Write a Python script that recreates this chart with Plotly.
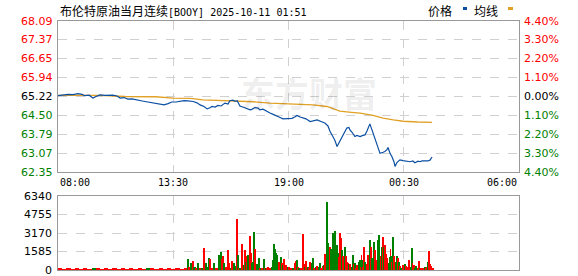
import plotly.graph_objects as go
import pandas as pd

# ---------------- data ----------------
TITLE_NAME = "布伦特原油当月连续"
TITLE_CODE = "[BOOY] 2025-10-11 01:51"
SESSION_START = "2025-10-10 08:00"
SESSION_END = "2025-10-11 06:00"
PREV_CLOSE = 65.22

# price line: minutes since 08:00 and price
price_minutes = [0, 14, 29, 43, 57, 69, 77, 89, 100, 109, 120, 135, 149, 157, 169, 178, 189, 200, 212, 220,
                 229, 241, 249, 258, 269, 281, 292, 304, 315, 326, 338, 349, 361, 372, 387, 398, 407, 418, 427, 435,
                 441, 450, 458, 467, 478, 487, 492, 501, 507, 513, 521, 533, 541, 550, 555, 564, 573, 578, 587, 596,
                 607, 616, 627, 636, 644, 656, 670, 679, 684, 693, 702, 710, 722, 730, 742, 753, 764, 773, 779, 787,
                 793, 799, 805, 813, 819, 827, 833, 836, 842, 850, 856, 865, 873, 879, 885, 893, 899, 905, 908, 916,
                 922, 931, 936, 942, 945, 951, 956, 962, 965, 971, 974, 979, 988, 996, 1008, 1016, 1022, 1031, 1037,
                 1042, 1051, 1059, 1065, 1071]
price_values = [65.25, 65.27, 65.30, 65.29, 65.33, 65.30, 65.25, 65.27, 65.16, 65.22, 65.28, 65.26, 65.28, 65.27,
                65.24, 65.16, 65.18, 65.12, 65.13, 65.10, 65.07, 65.05, 65.03, 65.01, 64.98, 64.94, 64.92, 64.90,
                64.95, 65.01, 65.01, 65.04, 65.06, 65.05, 65.03, 64.98, 64.90, 64.84, 64.75, 64.79, 64.84, 64.82,
                64.88, 64.86, 64.97, 64.93, 65.06, 65.08, 65.04, 65.06, 64.86, 64.80, 64.75, 64.71, 64.73, 64.80,
                64.78, 64.71, 64.74, 64.66, 64.59, 64.54, 64.46, 64.42, 64.37, 64.38, 64.39, 64.45, 64.50, 64.44,
                64.40, 64.37, 64.27, 64.30, 64.33, 64.27, 64.21, 64.10, 63.89, 63.70, 63.55, 63.32, 63.48, 63.64,
                63.80, 64.02, 64.04, 63.95, 63.86, 63.70, 63.74, 63.70, 63.74, 63.76, 63.92, 64.18, 63.95, 63.70,
                63.57, 63.32, 63.06, 63.10, 63.13, 63.20, 63.28, 63.05, 62.94, 62.74, 62.56, 62.72, 62.77, 62.81,
                62.78, 62.77, 62.74, 62.77, 62.70, 62.76, 62.74, 62.77, 62.76, 62.77, 62.80, 62.92]

# average line
avg_minutes = [0, 120, 192, 280, 329, 380, 415, 501, 560, 607, 650, 693, 730, 770, 807, 840, 865, 902, 931, 960,
               988, 1030, 1071]
avg_values = [65.26, 65.26, 65.22, 65.21, 65.16, 65.15, 65.09, 65.06, 65.02, 64.97, 64.95, 64.93, 64.90, 64.84,
              64.66, 64.62, 64.59, 64.50, 64.40, 64.33, 64.28, 64.25, 64.24]

# volume bars: minutes since 08:00, volume, 1 = up (red) / 0 = down (green)
vol_minutes = [0, 12, 24, 36, 48, 60, 72, 84, 97, 108, 120, 132, 144, 156, 168, 180, 192, 204, 216, 228, 240, 252,
               264, 276, 288, 300, 312, 324, 336, 348, 360,
               372, 375, 378, 384, 389, 394, 398, 404, 409, 415, 421, 424, 429, 435, 438, 444, 450, 455, 458, 464,
               467, 470, 475, 478, 484, 490, 492, 498, 501, 507, 510, 513, 515, 518, 521, 524, 527, 530, 533, 535,
               538, 541, 544, 547, 550, 553, 555, 558, 561, 564, 567, 570, 573, 575, 578, 581, 584, 587, 590, 593,
               598, 601, 604, 607, 610, 613, 618, 621, 624, 627, 630, 633, 636, 641, 644, 647, 650, 653, 656, 659,
               663, 667, 672, 676, 681, 684, 687, 690, 695, 699, 704, 707, 710, 713, 716, 719, 722, 725, 727, 730,
               733, 736, 739, 742, 744, 747, 750, 753, 756, 759, 762, 764, 767, 770, 773, 776, 779, 782, 785, 790,
               793, 796, 799, 802, 805, 808, 810, 813, 816, 819, 822, 825, 827, 830, 833, 836, 839, 842, 845, 848,
               850, 853, 856, 859, 862, 865, 868, 870, 873, 876, 879, 882, 885, 888, 891, 893, 896, 899, 902, 905,
               908, 911, 913, 916, 919, 922, 925, 928, 931, 934, 936, 939, 942, 945, 948, 951, 953, 956, 959, 962,
               965, 968, 971, 974, 977, 979, 982, 985, 988, 991, 994, 997, 999, 1002, 1005, 1008, 1011, 1014, 1016,
               1019, 1022, 1025, 1028, 1031, 1034, 1037, 1040, 1042, 1045, 1048, 1051, 1054, 1057, 1060, 1062, 1065,
               1068, 1071]
vol_values = [90, 80, 90, 85, 90, 80, 90, 85, 170, 90, 85, 90, 80, 90, 85, 90, 85, 90, 80, 90, 85, 110,
              90, 85, 90, 80, 90, 85, 90, 80, 90,
              950, 300, 600, 770, 250, 150, 600, 100, 170, 1870, 600, 250, 1030, 950, 200, 600, 150, 100, 1290, 1550,
              950, 1200, 600, 260, 1720, 600, 200, 780, 600, 340, 4390, 780, 1290, 200, 200, 2240, 300, 400, 260, 1720,
              700, 1200, 1290, 2920, 690, 1460, 600, 700, 3270, 1800, 520, 300, 780, 1030, 200, 170, 150, 950, 200, 100,
              100, 260, 100, 150, 300, 860, 2240, 1800, 1460, 1290, 690, 500, 1120, 600, 400, 950, 400, 200, 300, 260,
              100, 150, 100, 600, 780, 860, 300, 150, 100, 3100, 520, 300, 780, 300, 150, 700, 150, 300, 600, 1030,
              200, 250, 340, 100, 150, 300, 600, 200, 340, 400, 1030, 1380, 690, 5850, 2320, 1980, 1800, 860, 3180, 2750,
              3360, 2150, 1460, 1120, 3180, 1500, 2750, 1720, 1200, 1980, 1200, 500, 690, 600, 500, 520, 300, 1290, 520, 300,
              600, 200, 430, 690, 860, 300, 1290, 860, 300, 1980, 700, 500, 1290, 690, 400, 2580, 1980, 1000, 2410, 1720,
              860, 500, 860, 2580, 3010, 1200, 1980, 2840, 1980, 800, 2150, 1380, 1030, 600, 1120, 1800, 1200, 700, 2840, 1200,
              700, 1200, 1030, 690, 300, 340, 200, 430, 200, 520, 340, 150, 260, 200, 860, 300, 1890, 600, 300,
              430, 150, 340, 150, 780, 200, 150, 100, 150, 100, 260, 150, 260, 690, 300, 1630, 500,
              340, 170]
vol_up = [1, 1, 1, 1, 1, 1, 1, 1, 0, 1, 1, 1, 1, 1, 1, 1, 1, 1, 1, 1, 1, 0,
          1, 1, 1, 1, 1, 1, 1, 1, 1,
          0, 1, 0, 1, 0, 1, 0, 1, 0, 1, 0, 0, 0, 1, 1, 0, 1, 1, 0, 0,
          1, 1, 0, 1, 1, 1, 0, 1, 0, 0, 1, 1, 0, 1, 0, 1, 1, 0, 1, 1,
          0, 1, 0, 1, 1, 1, 0, 0, 0, 1, 0, 0, 1, 0, 1, 0, 1, 0, 1, 0,
          1, 1, 1, 1, 0, 0, 0, 0, 0, 0, 1, 1, 0, 1, 0, 1, 1, 1, 0, 1,
          1, 1, 0, 1, 1, 0, 1, 0, 1, 1, 1, 0, 1, 0, 1, 1, 1, 0, 0, 0,
          1, 0, 1, 0, 1, 0, 0, 1, 1, 0, 0, 1, 1, 0, 0, 1, 0, 0, 0, 0,
          0, 0, 0, 1, 1, 1, 1, 0, 1, 0, 1, 0, 1, 1, 0, 1, 0, 0, 1, 0,
          0, 1, 1, 0, 0, 1, 1, 0, 1, 1, 0, 1, 1, 1, 0, 0, 1, 0, 0, 1,
          1, 0, 1, 0, 0, 1, 0, 1, 0, 1, 1, 1, 1, 0, 0, 1, 0, 1, 0, 1,
          0, 0, 1, 0, 1, 1, 0, 1, 1, 0, 1, 0, 1, 1, 1, 0, 0, 1, 1,
          1, 0, 0, 1, 1, 0, 1, 0, 1, 1, 0, 1, 1, 0, 1, 1, 1,
          1, 1]

price_ticks = [62.35, 63.07, 63.79, 64.50, 65.22, 65.94, 66.65, 67.37, 68.09]
price_tick_labels = ["62.35", "63.07", "63.79", "64.50", "65.22", "65.94", "66.65", "67.37", "68.09"]
pct_tick_labels = ["4.40%", "3.30%", "2.20%", "1.10%", "0.00%", "1.10%", "2.20%", "3.30%", "4.40%"]
vol_ticks = [0, 1585, 3170, 4755, 6340]
time_tick_dates = ["2025-10-10 08:00", "2025-10-10 13:30", "2025-10-10 19:00", "2025-10-11 00:30", "2025-10-11 06:00"]
time_tick_labels = ["08:00", "13:30", "19:00", "00:30", "06:00"]
legend_names = ["价格", "均线"]

# ---------------- styles ----------------
BLUE = "#0B4FA3"
GOLD = "#E0A126"
RED = "#FF0000"
GREEN = "#008000"
GRID = "#D0D0D0"
FRAME = "#999999"
NUMFONT = "DejaVu Sans"

start = pd.Timestamp(SESSION_START)
end = pd.Timestamp(SESSION_END)


def to_time(mins):
    return [start + pd.Timedelta(minutes=m) for m in mins]


price_x = to_time(price_minutes)
avg_x = to_time(avg_minutes)
vol_x = to_time(vol_minutes)
gaps = [(b - a) * 60000 for a, b in zip(vol_minutes[:-1], vol_minutes[1:])] + [3 * 60000]
vol_colors = [RED if u else GREEN for u in vol_up]

fig = go.Figure()
fig.add_trace(go.Scatter(x=avg_x, y=avg_values, mode="lines", line=dict(color=GOLD, width=1.3),
                         hoverinfo="skip", xaxis="x", yaxis="y"))
fig.add_trace(go.Scatter(x=price_x, y=price_values, mode="lines", line=dict(color=BLUE, width=1.2),
                         hoverinfo="skip", xaxis="x", yaxis="y"))
fig.add_trace(go.Bar(x=vol_x, y=vol_values, width=gaps, offset=0,
                     marker=dict(color=vol_colors, line=dict(width=0)),
                     hoverinfo="skip", xaxis="x2", yaxis="y2"))

XD = [58 / 578, 519 / 578]
MAIN_D = [1 - 172 / 276, 1 - 21 / 276]
VOL_D = [1 - 270 / 276, 1 - 196 / 276]

inner_times = [pd.Timestamp(t) for t in time_tick_dates[1:-1]]
xcommon = dict(range=[start, end], showline=True, mirror=True, linecolor=FRAME, linewidth=1,
               tickvals=inner_times, showticklabels=False, ticks="",
               showgrid=True, gridcolor=GRID, griddash="dash", gridwidth=1, zeroline=False,
               domain=XD, fixedrange=True)

fig.update_layout(
    width=578, height=276, autosize=False,
    margin=dict(l=0, r=0, t=0, b=0),
    paper_bgcolor="white", plot_bgcolor="white",
    showlegend=False, bargap=0,
    xaxis=dict(**xcommon, anchor="y"),
    xaxis2=dict(**xcommon, anchor="y2", matches="x"),
    yaxis=dict(domain=MAIN_D, range=[price_ticks[0], price_ticks[-1]], tickvals=price_ticks,
               showticklabels=False, ticks="", showline=True, mirror=True, linecolor=FRAME,
               showgrid=True, gridcolor=GRID, griddash="dash", zeroline=False, anchor="x"),
    yaxis2=dict(domain=VOL_D, range=[vol_ticks[0], vol_ticks[-1]], tickvals=vol_ticks,
                showticklabels=False, ticks="",
                showline=True, mirror=True, linecolor=FRAME,
                showgrid=True, gridcolor=GRID, griddash="dash", zeroline=False, anchor="x2"),
)

ann = []
for v, lab, pl in zip(price_ticks, price_tick_labels, pct_tick_labels):
    if abs(v - PREV_CLOSE) < 1e-9:
        c = "black"
    elif v > PREV_CLOSE:
        c = RED
    else:
        c = GREEN
    ann.append(dict(x=XD[0], xref="paper", y=v, yref="y", text=lab, showarrow=False,
                    xanchor="right", yanchor="middle", xshift=-3,
                    font=dict(family=NUMFONT, size=11, color=c)))
    ann.append(dict(x=XD[1], xref="paper", y=v, yref="y", text=pl, showarrow=False,
                    xanchor="left", yanchor="middle", xshift=3,
                    font=dict(family=NUMFONT, size=11, color=c)))

for v in vol_ticks:
    ann.append(dict(x=XD[0], xref="paper", y=v, yref="y2", text=str(v), showarrow=False,
                    xanchor="right", yanchor="middle", xshift=-4,
                    font=dict(family=NUMFONT, size=11, color="black")))

for i, (t, lab) in enumerate(zip(time_tick_dates, time_tick_labels)):
    xa = "left" if i == 0 else ("right" if i == len(time_tick_dates) - 1 else "center")
    ann.append(dict(x=pd.Timestamp(t), xref="x", y=1 - 182 / 276, yref="paper", text=lab,
                    showarrow=False, xanchor=xa, yanchor="middle",
                    font=dict(family="DejaVu Sans Mono", size=10, color="black")))

# title
ann.append(dict(x=XD[0], xref="paper", y=1 - 10 / 276, yref="paper",
                text=TITLE_NAME + '<span style="font-family:DejaVu Sans Mono;font-size:10px">' + TITLE_CODE + "</span>",
                showarrow=False, xanchor="left", yanchor="middle",
                font=dict(family="Noto Sans CJK SC", size=12, color="black")))

# legend
ann.append(dict(x=454 / 578, xref="paper", y=1 - 10 / 276, yref="paper", text=legend_names[0],
                showarrow=False, xanchor="right", yanchor="middle",
                font=dict(family="Noto Sans CJK SC", size=12, color="black")))
ann.append(dict(x=500 / 578, xref="paper", y=1 - 10 / 276, yref="paper", text=legend_names[1],
                showarrow=False, xanchor="right", yanchor="middle",
                font=dict(family="Noto Sans CJK SC", size=12, color="black")))

# watermark
ann.append(dict(x=309 / 578, xref="paper", y=1 - 93 / 276, yref="paper", text="<b>东方财富</b>",
                showarrow=False, xanchor="center", yanchor="middle",
                font=dict(family="Noto Sans CJK SC", size=34, color="rgba(0,0,0,0.08)")))

fig.update_layout(annotations=ann)

shapes = [
    dict(type="rect", xref="paper", yref="paper", x0=463 / 578, x1=467 / 578,
         y0=1 - 10 / 276, y1=1 - 7 / 276, fillcolor=BLUE, line=dict(width=0)),
    dict(type="rect", xref="paper", yref="paper", x0=508 / 578, x1=513 / 578,
         y0=1 - 10 / 276, y1=1 - 7 / 276, fillcolor=GOLD, line=dict(width=0)),
]
fig.update_layout(shapes=shapes)

fig.write_html("out.html", config={"displayModeBar": False})
